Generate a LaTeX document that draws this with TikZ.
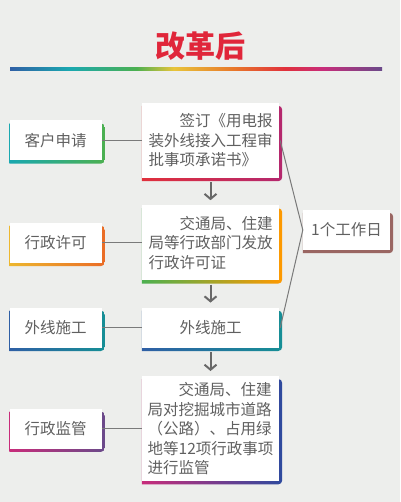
\documentclass[tikz,border=0pt]{standalone}
\usepackage{fontspec}
\setmainfont{Noto Sans CJK SC}
\usepackage{tikz}
\usetikzlibrary{positioning, arrows.meta, backgrounds}
\definecolor{bggray}{HTML}{EDEEEC}
\definecolor{txtgray}{HTML}{606060}
\definecolor{linegray}{HTML}{7A7A7A}
\definecolor{titlered}{HTML}{E0263A}
\definecolor{rbblue}{HTML}{2F5FA5}
\definecolor{rbteal}{HTML}{1AA8B0}
\definecolor{rbgreen}{HTML}{4CB050}
\definecolor{rbyellow}{HTML}{E8C43A}
\definecolor{rborange}{HTML}{E8782A}
\definecolor{rbred}{HTML}{E0303C}
\definecolor{rbmagenta}{HTML}{C82C7A}
\definecolor{rbpurple}{HTML}{6A4A8A}
\definecolor{deepblue}{HTML}{2E4A9E}
\definecolor{daybrown}{HTML}{9A6662}
\pgfdeclarehorizontalshading{rainbow}{100bp}{color(0bp)=(rbblue); color(25bp)=(rbblue);
  color(33bp)=(rbteal); color(42bp)=(rbgreen); color(47bp)=(rbyellow);
  color(55bp)=(rborange); color(62bp)=(rbred); color(67bp)=(rbmagenta);
  color(75bp)=(rbpurple); color(100bp)=(rbpurple)}
% coloured edge under a box: #1 node, #2 shading
\newcommand{\tabshade}[2]{%
  \shade[#2] ([yshift=-3pt]#1.south west) -- ([yshift=-3pt]#1.north west)
    [rounded corners=4pt] -- ([shift={(3pt,-3pt)}]#1.north east)
    -- ([shift={(3pt,-3pt)}]#1.south east) [sharp corners] -- cycle;}

\begin{document}
\begin{tikzpicture}[
  x=1pt, y=-1pt,
  font=\fontsize{15.5pt}{19.6pt}\selectfont, text=txtgray,
  node distance=27pt and 40pt,
  tab/.style={fill=white, inner sep=3pt, align=left, minimum height=40pt},
  leftbox/.style={tab, minimum width=92pt, align=center},
  midbox/.style={tab, minimum width=137pt},
  link/.style={draw=linegray, line width=1pt},
  arr/.style={draw=linegray!85!black, line width=2pt,
    -{Straight Barb[length=5pt,width=12pt]}, shorten <=4pt, shorten >=5pt}
]
\useasboundingbox (0,0) rectangle (400,502);
\node[font=\fontsize{30pt}{30pt}\selectfont\bfseries, text=titlered] (title) at (200,46) {改革后};

% process column
\node[midbox, minimum height=75pt] (sign) at (210.5,140.5)
  {\hspace*{2em}签订《用电报\\装外线接入工程审\\批事项承诺书》};
\node[midbox, minimum height=75pt, below=of sign] (permit)
  {\hspace*{2em}交通局、住建\\局等行政部门发放\\行政许可证};
\node[midbox, align=center, below=of permit] (build) {外线施工};
\node[midbox, minimum height=105pt, below=28pt of build] (watch)
  {\hspace*{2em}交通局、住建\\局对挖掘城市道路\\（公路）、占用绿\\地等12项行政事项\\进行监管};

% stages
\node[leftbox, left=of sign] (apply) {客户申请};
\node[leftbox, left=of permit] (license) {行政许可};
\node[leftbox, left=of build] (outwork) {外线施工};
\node[leftbox, left=of watch] (supervise) {行政监管};

\node[tab, minimum width=87pt, align=center] (days) at (346.5,230) {1个工作日};

\begin{scope}[on background layer]
  \fill[bggray] (0,0) rectangle (400,502);
  \shade[shading=rainbow] (10,68) rectangle (382,70.5);
  \tabshade{sign}{left color=rbred, right color=rbmagenta!90!black}
  \tabshade{permit}{left color=rbgreen, middle color=yellow!85!orange, right color=orange!80!yellow}
  \tabshade{build}{left color=rbblue, right color=rbteal!85!black}
  \tabshade{watch}{left color=rbmagenta, middle color=rbpurple, right color=deepblue}
  \tabshade{apply}{left color=rbteal, right color=rbgreen}
  \tabshade{license}{left color=rbyellow!80!orange, right color=rborange!90!red}
  \tabshade{outwork}{left color=rbblue, right color=rbteal!85!black}
  \tabshade{supervise}{left color=rbmagenta, right color=rbpurple}
  \tabshade{days}{left color=daybrown, right color=daybrown}
\end{scope}

\draw[link] (apply) -- (sign);
\draw[link] (license) -- (permit);
\draw[link] (outwork) -- (build);
\draw[link] (supervise) -- (watch);
\draw[link] ([xshift=1pt]sign.east) -- (days.west) -- ([xshift=1pt]build.east);

\draw[arr] (sign) -- (permit);
\draw[arr] (permit) -- (build);
\draw[arr] (build) -- (watch);
\end{tikzpicture}
\end{document}
